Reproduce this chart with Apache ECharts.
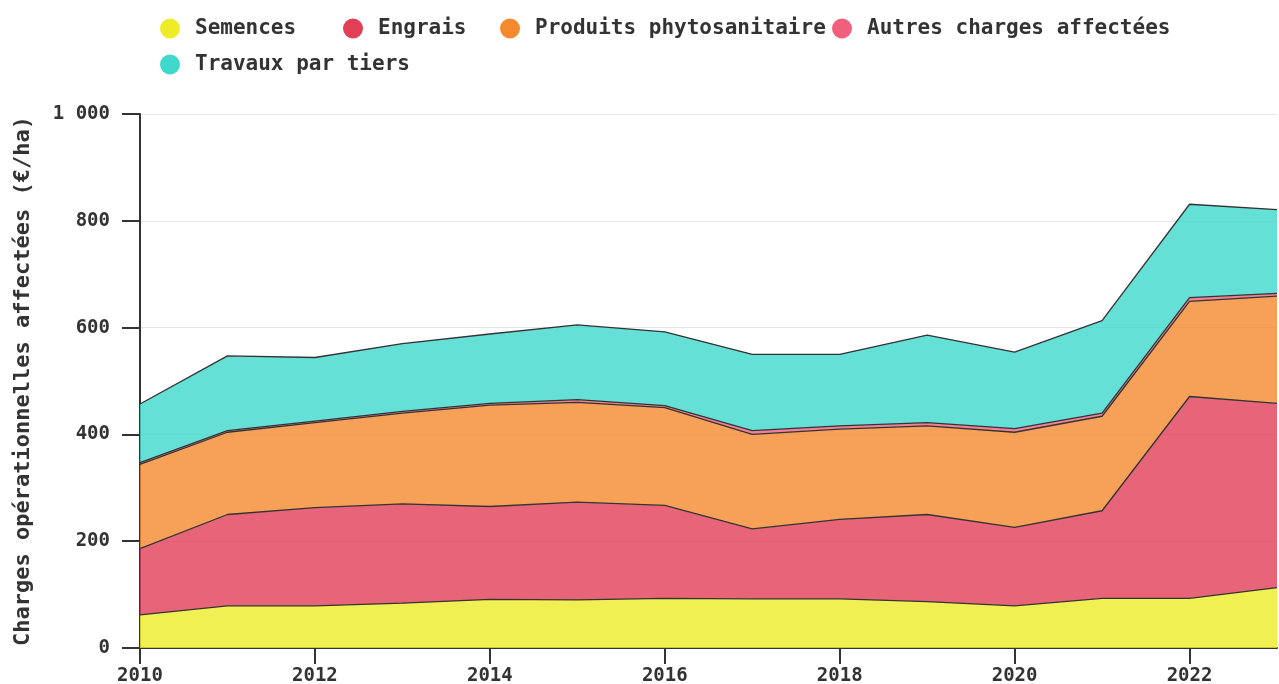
<!DOCTYPE html>
<html>
<head>
<meta charset="utf-8">
<title>Charges opérationnelles affectées</title>
<script src="https://cdn.jsdelivr.net/npm/echarts@6/dist/echarts.min.js"></script>
<style>
  html, body { margin: 0; padding: 0; background: #fff; }
  #main { width: 1279px; height: 684px; }
</style>
</head>
<body>
<div id="main"></div>
<script>
// années
const years = ['2010', '2011', '2012', '2013', '2014', '2015', '2016', '2017', '2018', '2019', '2020', '2021', '2022', '2023']

// charges par poste (€/ha)
const semences = [62, 79, 79, 84, 91, 90, 93, 92, 92, 87, 79, 93, 93, 113]
const engrais = [124, 171, 184, 186, 174, 183, 174, 131, 149, 163, 147, 164, 378, 345]
const phyto = [158, 154, 159, 170, 190, 187, 183, 177, 169, 166, 178, 177, 178, 201]
const autres = [3, 3, 3, 3, 3, 5, 4, 7, 6, 6, 7, 6, 7, 5]
const travaux = [110, 140, 119, 127, 130, 140, 138, 143, 134, 164, 143, 173, 175, 157]

// graduations de l'axe Y
const yTicks = [0, 200, 400, 600, 800, 1000]

const names = ['Semences', 'Engrais', 'Produits phytosanitaire', 'Autres charges affectées', 'Travaux par tiers']
const colors = ['#eeec28', '#e23f57', '#f5892e', '#f0607c', '#3ed8cc']
const values = [semences, engrais, phyto, autres, travaux]

const font = 'DejaVu Sans Mono'

// une légende par élément pour garder leur position
const legendPos = [
    { left: 160, top: 18 },
    { left: 343, top: 18 },
    { left: 500, top: 18 },
    { left: 832, top: 18 },
    { left: 160, top: 54 }
]

function spaced(v) {
    return String(v).replace(/\B(?=(\d{3})+(?!\d))/g, ' ')
}

const chart = echarts.init(document.getElementById('main'))

const option = {
    animation: false,
    color: colors,
    textStyle: { fontFamily: font },
    legend: names.map((n, i) => ({
        data: [n],
        left: legendPos[i].left,
        top: legendPos[i].top,
        icon: 'circle',
        itemWidth: 40,
        itemHeight: 20,
        padding: 0,
        textStyle: { fontFamily: font, fontSize: 21, color: '#333', fontWeight: 'bold' }
    })),
    grid: { left: 140, right: 2, top: 114, bottom: 36, outerBoundsMode: 'none', containLabel: false },
    xAxis: {
        type: 'category',
        data: years,
        boundaryGap: false,
        axisLine: { lineStyle: { color: '#333', width: 2 } },
        axisTick: { interval: 1, length: 16, lineStyle: { color: '#333', width: 2 } },
        axisLabel: { interval: 1, margin: 19, fontFamily: font, fontSize: 19, fontWeight: 'bold', color: '#333' },
        splitLine: { show: false }
    },
    yAxis: {
        type: 'value',
        min: yTicks[0],
        max: yTicks[yTicks.length - 1],
        interval: 200,
        name: 'Charges opérationnelles affectées (€/ha)',
        nameLocation: 'middle',
        nameGap: 106,
        nameTextStyle: { fontFamily: font, fontSize: 22, fontWeight: 'bold', color: '#333' },
        axisLine: { show: true, lineStyle: { color: '#333', width: 2 } },
        axisTick: { show: true, length: 18, lineStyle: { color: '#333', width: 2 } },
        axisLabel: { margin: 30, padding: [4, 0, 0, 0], fontFamily: font, fontSize: 19, fontWeight: 'bold', color: '#333', formatter: spaced },
        splitLine: { lineStyle: { color: '#e4e4e4', width: 1 } }
    },
    series: names.map((n, i) => ({
        name: n,
        type: 'line',
        stack: 'total',
        data: values[i],
        showSymbol: false,
        lineStyle: { color: '#333', width: 1.3 },
        areaStyle: { color: colors[i], opacity: 0.8 },
        itemStyle: { color: colors[i] },
        emphasis: { disabled: true }
    }))
}

chart.setOption(option)
</script>
</body>
</html>
